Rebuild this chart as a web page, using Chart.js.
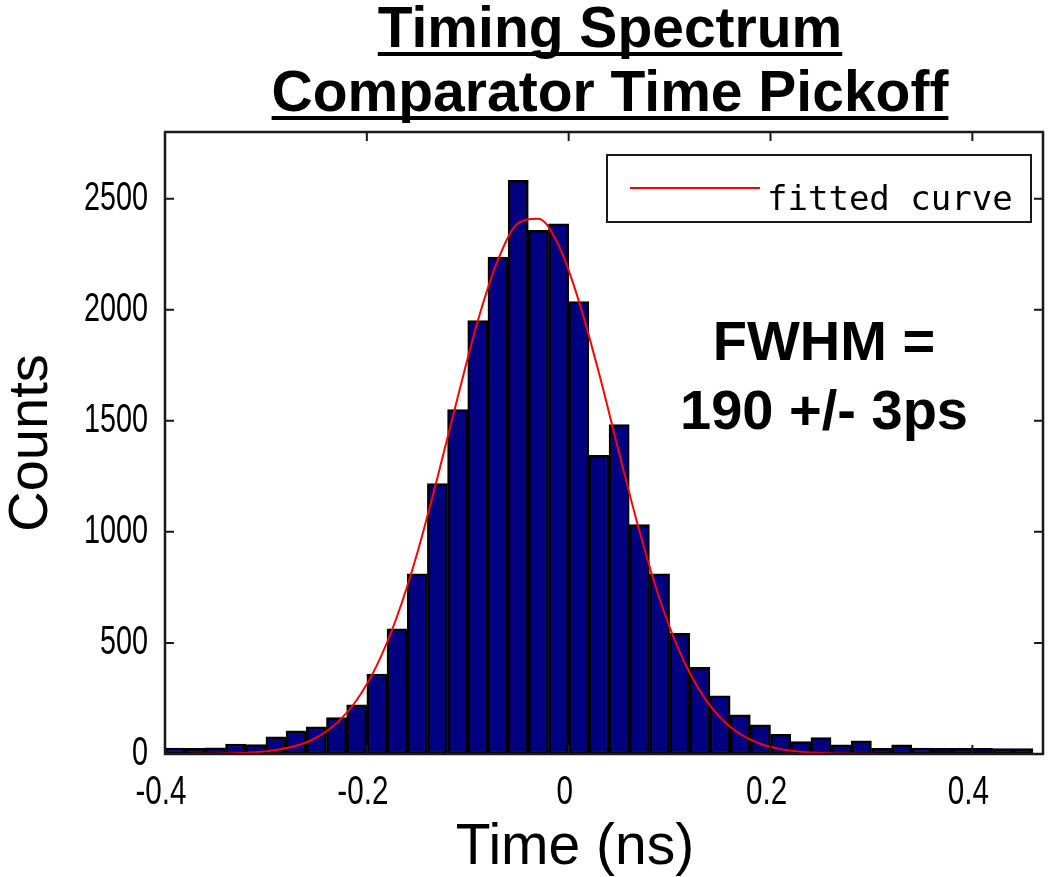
<!DOCTYPE html>
<html>
<head>
<meta charset="utf-8">
<title>Timing Spectrum</title>
<script src="https://cdn.jsdelivr.net/npm/chart.js@4"></script>
<style>
  html, body { margin: 0; padding: 0; background: #ffffff; }
  #graphCanvas { display: block; }
</style>
</head>
<body>
<canvas id="graphCanvas" width="1050" height="877"></canvas>
<script>
// histogram bins (ns, 0.02 ns wide) and counts
let bin_centers = [-0.39, -0.37, -0.35, -0.33, -0.31, -0.29, -0.27, -0.25, -0.23, -0.21,
    -0.19, -0.17, -0.15, -0.13, -0.11, -0.09, -0.07, -0.05, -0.03, -0.01,
    0.01, 0.03, 0.05, 0.07, 0.09, 0.11, 0.13, 0.15, 0.17, 0.19,
    0.21, 0.23, 0.25, 0.27, 0.29, 0.31, 0.33, 0.35, 0.37, 0.39,
    0.41, 0.43, 0.45];
let counts = [27, 26, 28, 45, 42, 77, 104, 122, 164, 221,
    360, 563, 811, 1217, 1551, 1951, 2237, 2583, 2357, 2387,
    2037, 1345, 1483, 1033, 811, 543, 390, 262, 176, 131,
    89, 56, 74, 41, 59, 26, 41, 27, 25, 26,
    25, 24, 24];

// fitted curve
let fit_x = [-0.40, -0.39, -0.37, -0.35, -0.33, -0.31, -0.29, -0.27, -0.25, -0.23, -0.21,
    -0.19, -0.17, -0.15, -0.13, -0.11, -0.09, -0.07, -0.05, -0.03, -0.01,
    0.01, 0.03, 0.05, 0.07, 0.09, 0.11, 0.13, 0.15, 0.17, 0.19,
    0.21, 0.23, 0.25, 0.27, 0.29, 0.31, 0.33, 0.35, 0.37, 0.39,
    0.41, 0.43, 0.45, 0.47];
let fit_y = [0, 0, 1, 1, 3, 8, 18, 37, 74, 139, 243,
    400, 620, 905, 1245, 1605, 1950, 2225, 2390, 2410, 2290,
    2040, 1715, 1355, 1005, 700, 460, 285, 165, 90, 46,
    22, 10, 4, 2, 1, 0, 0, 0, 0, 0,
    0, 0, 0, 0];

let x_ticks = [-0.4, -0.2, 0, 0.2, 0.4];
let x_tick_labels = ["-0.4", "-0.2", "0", "0.2", "0.4"];
let y_ticks = [0, 500, 1000, 1500, 2000, 2500];
let y_tick_labels = ["0", "500", "1000", "1500", "2000", "2500"];

let title_lines = ["Timing Spectrum", "Comparator Time Pickoff"];
let x_title = "Time (ns)";
let y_title = "Counts";
let note_lines = ["FWHM =", "190 +/- 3ps"];
let fit_label = "fitted curve";

const graphCanvas = document.getElementById("graphCanvas");
const ctx = graphCanvas.getContext("2d");

function drawText(c, text, x, y, font, align, sx) {
    c.save();
    c.translate(x, y);
    c.scale(sx, 1);
    c.font = font;
    c.textAlign = align;
    c.fillStyle = "#000000";
    c.fillText(text, 0, 0);
    c.restore();
}

// axes box, inward ticks, labels, title, legend and the FWHM note
const decorations = {
    id: "decorations",
    afterDraw: (chart) => {
        let c = chart.ctx;
        let area = chart.chartArea;
        let xs = chart.scales.x;
        let ys = chart.scales.y;
        let tick_len = 9;

        c.save();
        c.strokeStyle = "#1a1a1a";
        c.lineWidth = 2.5;
        c.strokeRect(area.left, area.top, area.right - area.left, area.bottom - area.top);

        c.lineWidth = 2;
        c.beginPath();
        x_ticks.forEach((v) => {
            let px = xs.getPixelForValue(v);
            c.moveTo(px, area.top);
            c.lineTo(px, area.top + tick_len);
            c.moveTo(px, area.bottom);
            c.lineTo(px, area.bottom - tick_len);
        });
        y_ticks.forEach((v) => {
            let py = ys.getPixelForValue(v);
            c.moveTo(area.left, py);
            c.lineTo(area.left + tick_len, py);
            c.moveTo(area.right, py);
            c.lineTo(area.right - tick_len, py);
        });
        c.stroke();

        // tick labels
        c.textBaseline = "middle";
        y_ticks.forEach((v, i) => {
            drawText(c, y_tick_labels[i], area.left - 17, ys.getPixelForValue(v), "40px 'Liberation Sans'", "right", 0.72);
        });
        x_ticks.forEach((v, i) => {
            drawText(c, x_tick_labels[i], xs.getPixelForValue(v) - 4, area.bottom + 39, "40px 'Liberation Sans'", "center", 0.74);
        });

        // axis titles
        c.textBaseline = "alphabetic";
        drawText(c, x_title, 575, 864, "57px 'Liberation Sans'", "center", 1);
        c.save();
        c.translate(47, (area.top + area.bottom) / 2);
        c.rotate(-Math.PI / 2);
        drawText(c, y_title, 0, 0, "56px 'Liberation Sans'", "center", 1);
        c.restore();

        // underlined title
        let title_baselines = [47, 111];
        let title_font = "bold 57px 'Liberation Sans'";
        c.font = title_font;
        title_lines.forEach((t, i) => {
            let cx = 610;
            drawText(c, t, cx, title_baselines[i], title_font, "center", 1);
            let w = c.measureText(t).width;
            c.fillStyle = "#000000";
            c.fillRect(cx - w / 2, title_baselines[i] + 5, w, 4);
        });

        // legend box
        let lg_right = area.right - 12;
        let lg_left = lg_right - 424;
        let lg_top = area.top + 23;
        let lg_h = 67;
        c.fillStyle = "#ffffff";
        c.fillRect(lg_left, lg_top, lg_right - lg_left, lg_h);
        c.strokeStyle = "#1a1a1a";
        c.lineWidth = 2;
        c.strokeRect(lg_left, lg_top, lg_right - lg_left, lg_h);
        c.strokeStyle = chart.data.datasets[0].borderColor;
        c.lineWidth = 2;
        c.beginPath();
        c.moveTo(lg_left + 23, lg_top + 33);
        c.lineTo(lg_left + 153, lg_top + 33);
        c.stroke();
        drawText(c, chart.data.datasets[0].label, lg_left + 160, lg_top + 55, "34px 'DejaVu Sans Mono'", "left", 1);

        // FWHM note
        let note_x = xs.getPixelForValue(0.253);
        drawText(c, note_lines[0], note_x, ys.getPixelForValue(1775), "bold 56px 'Liberation Sans'", "center", 1);
        drawText(c, note_lines[1], note_x, ys.getPixelForValue(1465), "bold 56px 'Liberation Sans'", "center", 1);
        c.restore();
    },
};

let hist_points = bin_centers.map((x, i) => ({ x: x, y: counts[i] }));
let fit_points = fit_x.map((x, i) => ({ x: x, y: fit_y[i] }));

let chart = new Chart(ctx, {
    type: "bar",
    data: {
        datasets: [
            {
                type: "line",
                label: fit_label,
                data: fit_points,
                borderColor: "#ff0000",
                borderWidth: 2,
                pointRadius: 0,
                cubicInterpolationMode: "monotone",
                fill: false,
                order: 0,
            },
            {
                label: "counts",
                data: hist_points,
                backgroundColor: "#000080",
                borderColor: "#000000",
                borderWidth: 2.5,
                borderSkipped: false,
                barPercentage: 1,
                categoryPercentage: 1,
                order: 1,
            },
        ],
    },
    options: {
        responsive: false,
        animation: false,
        devicePixelRatio: 1,
        layout: {
            padding: { left: 165, right: 7, top: 132, bottom: 123 },
        },
        scales: {
            x: {
                type: "linear",
                display: false,
                offset: false,
                min: -0.4,
                max: 0.47,
            },
            y: {
                type: "linear",
                display: false,
                min: 0,
                max: 2800,
            },
        },
        plugins: {
            legend: { display: false },
            title: { display: false },
            tooltip: { enabled: false },
        },
    },
    plugins: [decorations],
});
</script>
</body>
</html>
